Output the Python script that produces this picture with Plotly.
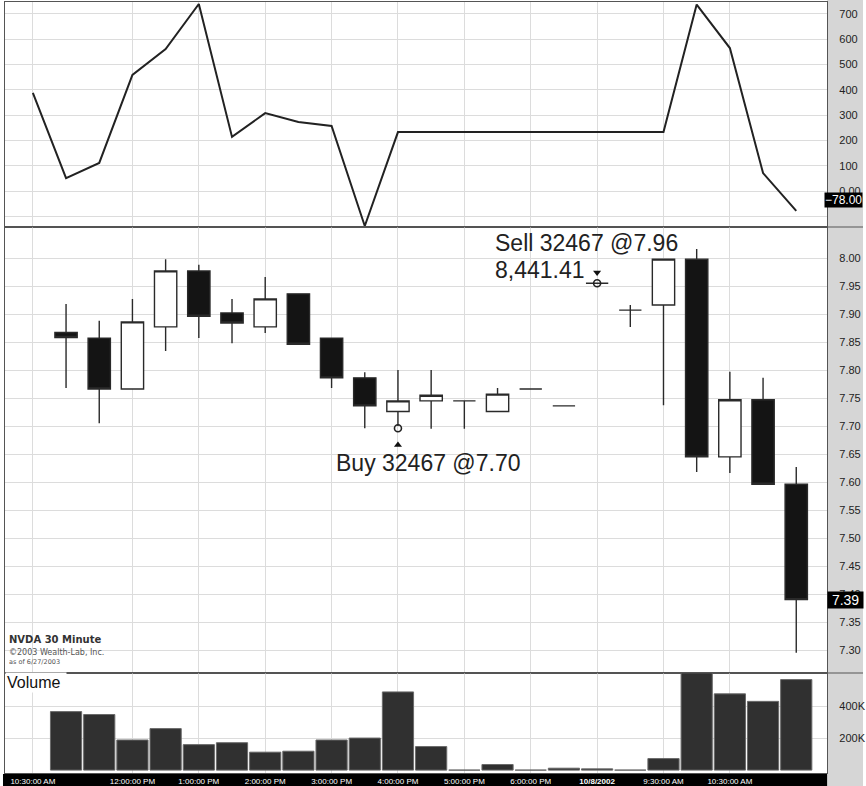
import plotly.graph_objects as go
from plotly.subplots import make_subplots

# ---------------- data ----------------
tick_pos = [0, 3, 5, 7, 9, 11, 13, 15, 17, 19, 21, 24]
tick_labels = ["10:30:00 AM", "12:00:00 PM", "1:00:00 PM", "2:00:00 PM", "3:00:00 PM",
               "4:00:00 PM", "5:00:00 PM", "6:00:00 PM", "<b>10/8/2002</b>", "9:30:00 AM",
               "10:30:00 AM", "12:00:00 PM"]

bar_index = list(range(1, 24))
opens = [7.867, 7.857, 7.766, 7.877, 7.977, 7.902, 7.877, 7.936, 7.857, 7.786, 7.726, 7.745,
         7.745, 7.726, 7.766, 7.736, 7.955, 7.907, 7.916, 7.998, 7.645, 7.747, 7.596]
highs = [7.918, 7.888, 7.927, 7.998, 7.988, 7.927, 7.966, 7.936, 7.857, 7.796, 7.800, 7.800,
         7.745, 7.768, 7.766, 7.736, 7.955, 7.916, 7.998, 8.016, 7.797, 7.786, 7.627]
lows = [7.768, 7.705, 7.766, 7.834, 7.857, 7.848, 7.866, 7.846, 7.768, 7.696, 7.700, 7.695,
        7.695, 7.726, 7.766, 7.736, 7.955, 7.877, 7.737, 7.618, 7.616, 7.596, 7.295]
closes = [7.858, 7.766, 7.886, 7.977, 7.896, 7.884, 7.927, 7.846, 7.786, 7.736, 7.745, 7.755,
          7.745, 7.757, 7.766, 7.736, 7.955, 7.907, 7.998, 7.645, 7.747, 7.596, 7.39]

volume_k = [365, 347, 188, 259, 159, 171, 112, 118, 188, 200, 488, 147,
            0, 35, 0, 12, 8, 0, 72, 640, 476, 429, 565]

ind_index = list(range(0, 24))
indicator = [388, 51, 111, 459, 561, 739, 214, 308, 273, 257, -138, 233,
             233, 233, 233, 233, 233, 233, 233, 233, 737, 565, 71, -78]

ind_ticks = [-100, 0, 100, 200, 300, 400, 500, 600, 700]
ind_ticktext = ["", "0.00", "100", "200", "300", "400", "500", "600", "700"]
price_ticks = [7.30, 7.35, 7.40, 7.45, 7.50, 7.55, 7.60, 7.65, 7.70, 7.75, 7.80, 7.85, 7.90, 7.95, 8.00]
vol_ticks = [200000, 400000]
vol_ticktext = ["200K", "400K"]

buy_index, buy_price, buy_shares = 11, 7.70, 32467
sell_index, sell_price, sell_shares = 17, 7.955, 32467
sell_label_price = "7.96"
profit_text = "8,441.41"

# ---------------- figure ----------------
W, H = 866, 786
TOP, BOT = 2, 13
plot_h = H - TOP - BOT


def py(px):
    return (H - BOT - px) / plot_h


fig = make_subplots(rows=3, cols=1, shared_xaxes=True, vertical_spacing=0,
                    row_heights=[0.3, 0.57, 0.13])

GRID = "#dcdcdc"

fig.add_trace(go.Scatter(x=ind_index, y=indicator, mode="lines",
                         line=dict(color="#222222", width=2), hoverinfo="skip"),
              row=1, col=1)

fig.add_trace(go.Candlestick(x=bar_index, open=opens, high=highs, low=lows, close=closes,
                             increasing=dict(fillcolor="#ffffff", line=dict(color="#2a2a2a", width=1.4)),
                             decreasing=dict(fillcolor="#141414", line=dict(color="#2a2a2a", width=1.4)),
                             whiskerwidth=0, hoverinfo="skip"),
              row=2, col=1)

# trade markers
fig.add_trace(go.Scatter(x=[buy_index, sell_index], y=[buy_price - 0.004, sell_price], mode="markers",
                         marker=dict(symbol="circle-open", size=7, color="#222",
                                     line=dict(width=1.6, color="#222")), hoverinfo="skip"),
              row=2, col=1)
fig.add_trace(go.Scatter(x=[buy_index], y=[buy_price - 0.034], mode="markers",
                         marker=dict(symbol="triangle-up", size=7, color="#111"), hoverinfo="skip"),
              row=2, col=1)
fig.add_trace(go.Scatter(x=[sell_index], y=[sell_price + 0.019], mode="markers",
                         marker=dict(symbol="triangle-down", size=7, color="#111"), hoverinfo="skip"),
              row=2, col=1)

fig.add_trace(go.Bar(x=bar_index, y=[v * 1000 for v in volume_k],
                     marker=dict(color="#303030", line=dict(color="#6a6a6a", width=1)),
                     hoverinfo="skip"),
              row=3, col=1)

# domains
d1 = [py(227), 1]
d2 = [py(673), py(227)]
d3 = [0, py(673)]
xdom = [5 / W, 830 / W]
xrange_ = [-0.84, 23.93]

axfont = dict(family="Liberation Sans, Arial, sans-serif", size=11, color="#222")
for i, dom in zip([1, 2, 3], [d1, d2, d3]):
    fig.update_layout(**{
        ("xaxis" if i == 1 else f"xaxis{i}"): dict(
            domain=xdom, range=xrange_, tickmode="array", tickvals=tick_pos,
            ticktext=tick_labels, showgrid=True, gridcolor=GRID, gridwidth=1,
            zeroline=False, showline=True, linecolor="#555", linewidth=1, mirror=True,
            showticklabels=(i == 3), ticks="", rangeslider=dict(visible=False),
            tickfont=dict(family="Liberation Sans, Arial, sans-serif", size=8, color="#ffffff"),
            tickangle=0),
        ("yaxis" if i == 1 else f"yaxis{i}"): dict(domain=dom)
    })

fig.update_layout(
    yaxis=dict(range=[-142, 747], side="right", tickmode="array", tickvals=ind_ticks,
               ticktext=ind_ticktext, showgrid=True, gridcolor=GRID, zeroline=False,
               showline=True, linecolor="#555", mirror=True, tickfont=axfont,
               ticklabelstandoff=9),
    yaxis2=dict(range=[7.259, 8.0554], side="right", tickmode="array", tickvals=price_ticks,
                tickformat=".2f",
                showgrid=True, gridcolor=GRID, zeroline=False, showline=True, linecolor="#555",
                mirror=True, tickfont=axfont, ticklabelstandoff=9),
    yaxis3=dict(range=[-18000, 606000], side="right", tickmode="array", tickvals=vol_ticks,
                ticktext=vol_ticktext, showgrid=True, gridcolor=GRID, zeroline=False,
                showline=True, linecolor="#555", mirror=True, tickfont=axfont,
                ticklabelstandoff=9),
    width=W, height=H,
    margin=dict(l=0, r=0, t=TOP, b=BOT),
    paper_bgcolor="#ffffff", plot_bgcolor="#ffffff",
    showlegend=False, boxgap=0.04, bargap=0.06,
    font=dict(family="Liberation Sans, Arial, sans-serif", color="#222"),
)

# right gray axis strip and black time strip
fig.add_shape(type="rect", xref="paper", yref="paper", x0=830 / W, x1=1.0,
              y0=py(H), y1=py(0), fillcolor="#d6d6d6", line=dict(width=0), layer="below")
fig.add_shape(type="rect", xref="paper", yref="paper", x0=3 / W, x1=830 / W,
              y0=py(H), y1=py(774), fillcolor="#000000", line=dict(width=0), layer="below")
for sep in [227, 673]:
    fig.add_shape(type="line", xref="paper", yref="paper", x0=5 / W, x1=1.0,
                  y0=py(sep), y1=py(sep), line=dict(color="#555", width=1.2))

# value boxes
fig.add_annotation(x=1.0, xref="paper", y=indicator[-1], yref="y", xanchor="right",
                   yanchor="middle", yshift=11, text=f"\u2212{abs(indicator[-1]):.2f}",
                   showarrow=False, bgcolor="#000", borderpad=0,
                   font=dict(color="#fff", size=12, family="Liberation Sans, Arial"))
fig.add_annotation(x=830 / W, xref="paper", y=closes[-1], yref="y2", xanchor="left",
                   yanchor="middle", text=f" {closes[-1]:.2f} ", showarrow=False,
                   bgcolor="#000", borderpad=0,
                   font=dict(color="#fff", size=14, family="Liberation Sans, Arial"))

# trade texts
tfont = dict(family="Liberation Sans, Arial, sans-serif", size=23, color="#222")
fig.add_annotation(x=sell_index, xref="x2", y=sell_price, yref="y2", xanchor="left",
                   yanchor="middle", xshift=-104, yshift=40,
                   text=f"Sell {sell_shares} @{sell_label_price}", showarrow=False, font=tfont)
fig.add_annotation(x=sell_index, xref="x2", y=sell_price, yref="y2", xanchor="left",
                   yanchor="middle", xshift=-104, yshift=13,
                   text=profit_text, showarrow=False, font=tfont)
fig.add_annotation(x=buy_index, xref="x2", y=buy_price, yref="y2", xanchor="left",
                   yanchor="middle", xshift=-64, yshift=-37,
                   text=f"Buy {buy_shares} @{buy_price:.2f}", showarrow=False, font=tfont)

# chart captions
fig.add_annotation(x=7 / W, xref="paper", y=py(639), yref="paper", xanchor="left",
                   yanchor="middle", text="<b>NVDA 30 Minute</b>", showarrow=False,
                   font=dict(family="DejaVu Sans, Verdana", size=10, color="#333"))
fig.add_annotation(x=7 / W, xref="paper", y=py(652), yref="paper", xanchor="left",
                   yanchor="middle", text="\u00a92003 Wealth-Lab, Inc.", showarrow=False,
                   font=dict(family="DejaVu Sans, Verdana", size=8, color="#555"))
fig.add_annotation(x=7 / W, xref="paper", y=py(662), yref="paper", xanchor="left",
                   yanchor="middle", text="as of 6/27/2003", showarrow=False,
                   font=dict(family="DejaVu Sans, Verdana", size=6.5, color="#555"))
fig.add_annotation(x=5.5 / W, xref="paper", y=py(672), yref="paper", xanchor="left",
                   yanchor="top", text="Volume ", showarrow=False, bgcolor="#fff",
                   borderpad=1,
                   font=dict(family="Liberation Sans, Arial", size=16, color="#111"))

fig.write_html("out.html", config={"displayModeBar": False},
               post_script="document.body.style.margin='0';")
